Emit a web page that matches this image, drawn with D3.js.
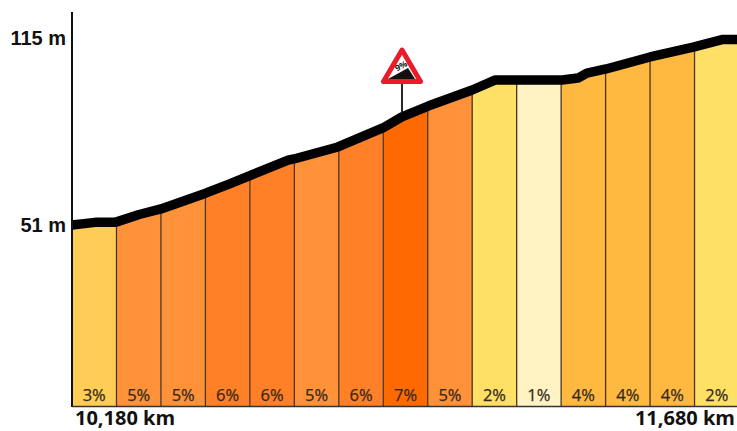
<!DOCTYPE html>
<html><head><meta charset="utf-8">
<script src="https://cdn.jsdelivr.net/npm/d3@7"></script>
<style>html,body{margin:0;padding:0;background:#fff;overflow:hidden}svg{display:block}</style>
</head><body><svg id="c" width="737" height="431"></svg>
<script>
const grades = [3,5,5,6,6,5,6,7,5,2,1,4,4,4,2];
const gradeColors = {1:"#FFF3C4",2:"#FFE066",3:"#FFCC55",4:"#FFB940",5:"#FF9238",6:"#FF8026",7:"#FF6A00"};
const startKm = [10180,10280,10380,10480,10580,10680,10780,10880,10980,11080,11180,11280,11380,11480,11580];
const profileKm = [10180,10232,10277,10331,10380,10479,10533,10666,10679,10778,10879,10922,10981,11080,11131,11282,11318,11338,11381,11480,11577,11644,11690];
const profileM  = [51,51.9,51.9,54.6,56.5,61.8,65,73.2,73.6,77.7,84.2,88,91.7,97.2,100.6,100.6,101.3,103,104.4,108.5,111.9,114.5,114.5];
const elevTicks = [51,115];
const distLabels = ["10,180 km","11,680 km"];

const svg = d3.select("#c");
const x = d3.scaleLinear().domain([10180,11680]).range([72,739]);
const y = d3.scaleLinear().domain([51,115]).range([225,38]);
const elevAt = d3.scaleLinear().domain(profileKm).range(profileM);
const base = 406;
const pts = profileKm.map((k,i)=>[k,profileM[i]]);
const area = d3.area().x(d=>x(d[0])).y0(base).y1(d=>y(d[1]));
const line = d3.line().x(d=>x(d[0])).y(d=>y(d[1]));

const defs = svg.append("defs");
startKm.forEach((k,i)=>{
  defs.append("clipPath").attr("id","b"+i).append("rect")
    .attr("x",x(k)).attr("y",0).attr("width",x(k+100)-x(k)).attr("height",base);
});
svg.selectAll("path.band").data(startKm).join("path").attr("class","band")
  .attr("d",area(pts)).attr("clip-path",(d,i)=>`url(#b${i})`)
  .attr("fill",(d,i)=>gradeColors[grades[i]]);

svg.selectAll("line.sep").data(startKm.slice(1)).join("line").attr("class","sep")
  .attr("x1",d=>x(d)).attr("x2",d=>x(d)).attr("y2",base)
  .attr("y1",d=>y(elevAt(d)))
  .attr("stroke","#4a3524").attr("stroke-width",1.3);

svg.append("path").attr("d",line(pts)).attr("fill","none").attr("stroke","#000").attr("stroke-width",9.5).attr("stroke-linejoin","round");

svg.selectAll("text.g").data(grades).join("text").attr("class","g")
  .attr("x",(d,i)=>x(startKm[i]+50)).attr("y",401).attr("text-anchor","middle")
  .attr("font-family","'Open Sans'").attr("font-size",16.5).attr("fill","#33291c")
  .attr("stroke","#33291c").attr("stroke-width",0.25).text(d=>d+"%");

svg.append("line").attr("x1",72).attr("x2",72).attr("y1",12).attr("y2",base+1).attr("stroke","#111").attr("stroke-width",2);
svg.append("line").attr("x1",72).attr("x2",737).attr("y1",base+0.5).attr("y2",base+0.5).attr("stroke","#333").attr("stroke-width",1.4);

svg.selectAll("text.e").data(elevTicks).join("text").attr("class","e")
  .attr("x",66).attr("y",d=>y(d)+7).attr("text-anchor","end")
  .attr("font-family","'Liberation Sans'").attr("font-weight",700).attr("font-size",20).attr("fill","#111").text(d=>d+" m");

svg.append("text").attr("x",75).attr("y",425).attr("font-family","'Open Sans'").attr("font-weight",700).attr("font-size",20).attr("fill","#111").text(distLabels[0]);
svg.append("text").attr("x",735).attr("y",425).attr("text-anchor","end").attr("font-family","'Open Sans'").attr("font-weight",700).attr("font-size",20).attr("fill","#111").text(distLabels[1]);

const s = svg.append("g").attr("transform","translate(402,0)");
s.append("line").attr("x1",0).attr("x2",0).attr("y1",84).attr("y2",113).attr("stroke","#111").attr("stroke-width",1.8);
s.append("path").attr("d","M0,50L-18.5,81.5L18.5,81.5Z").attr("fill","#fff").attr("stroke","#e81c2a").attr("stroke-width",5).attr("stroke-linejoin","round");
s.append("path").attr("d","M-14,79L6,68L13,79Z").attr("fill","#111");
s.append("text").attr("x",-1).attr("y",69).attr("text-anchor","middle").attr("font-family","'Open Sans'").attr("font-weight",700).attr("font-size",8.5).attr("fill","#222").attr("transform","rotate(-28 -1 66)").text("9%");
</script></body></html>
